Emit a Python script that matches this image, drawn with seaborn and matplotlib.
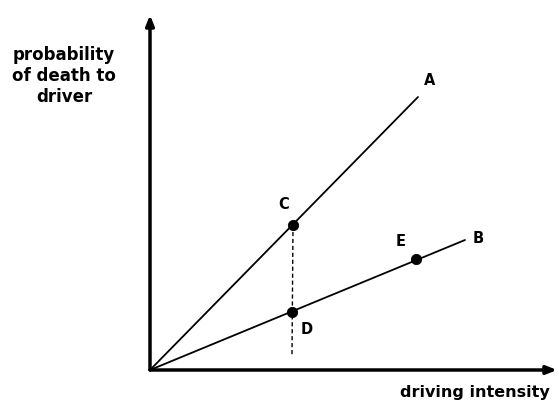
import pandas as pd
import seaborn as sns
import matplotlib.pyplot as plt

# line endpoints (origin -> end), arbitrary units
line_names = ["A", "B"]
line_end_x = [26.8, 31.5]
line_end_y = [27.3, 13.0]

# marked points
point_names = ["C", "D", "E"]
point_x = [14.3, 14.2, 26.6]
point_y = [14.5, 5.8, 11.1]

# dashed drop from C
drop_x = [14.3, 14.2]
drop_y = [14.5, 1.5]

rows = []
for name, ex, ey in zip(line_names, line_end_x, line_end_y):
    rows.append({"line": name, "x": 0.0, "y": 0.0})
    rows.append({"line": name, "x": ex, "y": ey})
lines = pd.DataFrame(rows)
pts = pd.DataFrame({"name": point_names, "x": point_x, "y": point_y})

sns.set_theme(style="white")
plt.rcParams["font.family"] = ["DejaVu Sans"]
plt.rcParams["text.color"] = "black"

fig = plt.figure(figsize=(5.59, 4.03), dpi=100)
ax = fig.add_axes([150 / 559, 33 / 403, 407 / 559, 355 / 403])

sns.lineplot(data=lines, x="x", y="y", units="line", estimator=None,
             color="black", lw=1.3, ax=ax, legend=False)
ax.plot(drop_x, drop_y, color="black", lw=1.0, ls=(0, (3, 2)))
sns.scatterplot(data=pts, x="x", y="y", color="black", s=55, ax=ax,
                edgecolor="black", legend=False, zorder=5)

ax.set_xlim(0, 40.7)
ax.set_ylim(0, 35.5)

# labels next to lines and points
lab = dict(fontsize=10.5, fontweight="bold", color="black")
ax.text(line_end_x[0] + 0.6, line_end_y[0] + 1.2, "A", **lab)
ax.text(line_end_x[1] + 0.8, line_end_y[1] - 0.3, "B", **lab)
ax.text(point_x[0] - 1.5, point_y[0] + 1.6, "C", **lab)
ax.text(point_x[1] + 0.9, point_y[1] - 2.2, "D", **lab)
ax.text(point_x[2] - 2.0, point_y[2] + 1.3, "E", **lab)

# axes drawn as arrows
for s in ax.spines.values():
    s.set_visible(False)
ax.set_xticks([])
ax.set_yticks([])
ax.set_xlabel("")
ax.set_ylabel("")
ax.annotate("", xy=(1, 0), xytext=(0, 0), xycoords="axes fraction",
            arrowprops=dict(arrowstyle="-|>,head_length=0.5,head_width=0.2",
                            color="black", lw=2.5, shrinkA=0, shrinkB=0))
ax.annotate("", xy=(0, 1), xytext=(0, 0), xycoords="axes fraction",
            arrowprops=dict(arrowstyle="-|>,head_length=0.5,head_width=0.2",
                            color="black", lw=2.5, shrinkA=0, shrinkB=0))

fig.text(64 / 559, 1 - 76 / 403, "probability\nof death to\ndriver",
         ha="center", va="center", fontsize=12, fontweight="bold",
         linespacing=1.2, color="black")
fig.text(475 / 559, 1 - 392 / 403, "driving intensity", ha="center",
         va="center", fontsize=11.5, fontweight="bold", color="black")

fig.savefig("out.png", dpi=100)
